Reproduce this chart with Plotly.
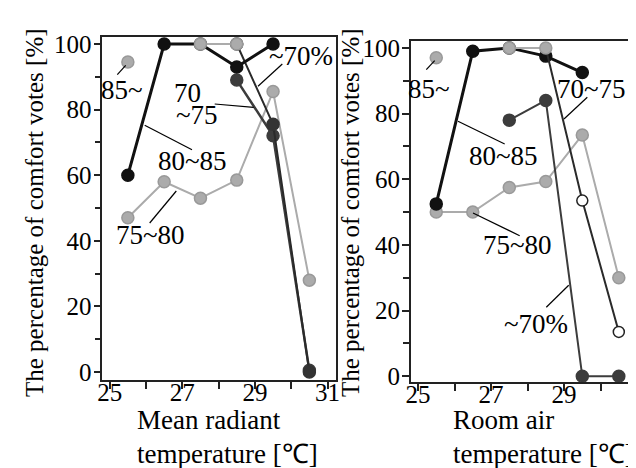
import plotly.graph_objects as go

# ---------------- data ----------------
temp_bins = [25.5, 26.5, 27.5, 28.5, 29.5, 30.5]

# Left panel: mean radiant temperature
mrt_85 = [94.5, None, None, None, None, None]
mrt_80_85 = [60, 100, 100, 93, 100, None]
mrt_75_80 = [47, 58, 53, 58.5, 85.5, 28]
mrt_70_75 = [None, None, None, 89, 72, 0.5]
mrt_70 = [None, None, 100, 100, 75.5, 0]

# Right panel: room air temperature
air_85 = [97, None, None, None, None, None]
air_80_85 = [52.5, 99, 100, 97.5, 92.5, None]
air_75_80 = [50, 50, 57.5, 59.3, 73.5, 30]
air_70_75 = [None, None, 100, 100, 53.5, 13.5]
air_70 = [None, None, 78, 84, 0, 0]

y_ticks = [0, 20, 40, 60, 80, 100]
x_ticks = [25, 27, 29, 31]

W, H = 636, 468
FONT = "Liberation Serif"
BLACK = "#111111"
DARK = "#3c3c3c"
LIGHT = "#ababab"


def px(x):
    return x / W


def py(y):
    return 1 - y / H


fig = go.Figure()


def line_trace(xs, ys, xa, ya, lcolor, lwidth, mcolor, msize=12, mline=None):
    fig.add_trace(go.Scatter(
        x=xs, y=ys, xaxis=xa, yaxis=ya, mode="lines+markers",
        line=dict(color=lcolor, width=lwidth),
        marker=dict(color=mcolor, size=msize, symbol="circle",
                    line=dict(color=mline or mcolor, width=1.5)),
        connectgaps=False, showlegend=False, hoverinfo="skip", cliponaxis=False))


# ---- left panel ----
line_trace(temp_bins, mrt_75_80, "x", "y", LIGHT, 2, LIGHT, mline="#999999")
line_trace(temp_bins, mrt_70_75, "x", "y", DARK, 2.5, DARK)
line_trace(temp_bins[3:], mrt_70[3:], "x", "y", "#2a2a2a", 2, "#333333")
line_trace(temp_bins, mrt_80_85, "x", "y", BLACK, 3, BLACK)
line_trace(temp_bins[2:4], mrt_70[2:4], "x", "y", LIGHT, 2, LIGHT, mline="#999999")
line_trace(temp_bins, mrt_85, "x", "y", LIGHT, 2, LIGHT, mline="#999999")

# ---- right panel ----
line_trace(temp_bins, air_75_80, "x2", "y2", LIGHT, 2, LIGHT, mline="#999999")
line_trace(temp_bins, air_70, "x2", "y2", DARK, 2, DARK)
line_trace(temp_bins, air_80_85, "x2", "y2", BLACK, 3, BLACK)
line_trace(temp_bins[3:], air_70_75[3:], "x2", "y2", "#2a2a2a", 2,
           ["rgba(0,0,0,0)", "white", "white"], msize=11,
           mline=["rgba(0,0,0,0)", "#222222", "#222222"])
line_trace(temp_bins[2:4], air_70_75[2:4], "x2", "y2", LIGHT, 2, LIGHT, mline="#999999")
line_trace(temp_bins, air_85, "x2", "y2", LIGHT, 2, LIGHT, mline="#999999")

tick_font = dict(family=FONT, size=25, color="black")
axis_common = dict(
    showline=True, linecolor="#222222", linewidth=1.5,
    ticks="outside", ticklen=7, tickwidth=1.5, tickcolor="#222222",
    showgrid=False, zeroline=False, tickfont=tick_font, automargin=False,
)

xa = dict(axis_common, tickvals=x_ticks, mirror=True, ticklabelstandoff=-18,
          minor=dict(dtick=1, tick0=25, ticks="outside", ticklen=7, tickwidth=1.5, tickcolor="#222222"))
ya = dict(axis_common, tickvals=y_ticks, ticklabelstandoff=-3,
          minor=dict(dtick=10, tick0=0, ticks="outside", ticklen=6, tickwidth=1.5, tickcolor="#222222"))

fig.update_layout(
    width=W, height=H, margin=dict(l=0, r=0, t=0, b=0, autoexpand=False),
    paper_bgcolor="white", plot_bgcolor="white",
    xaxis=dict(xa, domain=[px(94.3), px(328.3)], range=[24.796, 31.242], anchor="y"),
    yaxis=dict(ya, domain=[py(372), py(29)], range=[-2.44, 102.13], anchor="x", mirror=True),
    xaxis2=dict(xa, domain=[px(402.7), 1.0], range=[24.8, 31.19], anchor="y2"),
    yaxis2=dict(ya, domain=[py(374), py(33)], range=[-1.74, 102.1], anchor="x2", mirror=False),
)

annots = []


def label(text, x, y, size=27, xanchor="center", angle=0):
    annots.append(dict(text=text, x=px(x), y=py(y), xref="paper", yref="paper",
                       xanchor=xanchor, yanchor="middle", showarrow=False,
                       textangle=angle, font=dict(family=FONT, size=size, color="black")))


# left panel labels
label("85~", 114, 81.7)
label("80~85", 184, 153)
label("70", 179, 85.3)
label("~75", 166, 107.3, xanchor="left")
label("~70%", 292.5, 48)
label("75~80", 142.5, 226.7)
# right panel labels
label("85~", 420.8, 80.8)
label("80~85", 495.8, 148)
label("70~75", 583.3, 80.8)
label("75~80", 509.2, 236.7)
label("~70%", 527.5, 316)

# axis titles
label("The percentage of comfort votes [%]", 26, 205, size=25, angle=-90)
label("The percentage of comfort votes [%]", 342, 205, size=25, angle=-90)
label("Mean radiant", 127, 412, xanchor="left")
label("temperature [℃]", 127, 446, xanchor="left")
label("Room air", 443, 412, xanchor="left")
label("temperature [℃]", 443, 446, xanchor="left")

fig.update_layout(annotations=annots)

leaders = [
    (109.3, 66.7, 117.7, 57.3),
    (136.7, 117.3, 184, 141.7),
    (206.7, 96, 245.7, 99.3),
    (274.3, 56, 250, 78.3),
    (141.7, 215, 168.3, 183),
    (418.3, 61.7, 426.7, 52.7),
    (450, 113.3, 496.7, 136),
    (579.3, 89.3, 556, 111),
    (465, 205, 511.7, 227.7),
    (538.3, 299.3, 560.7, 277.3),
]
fig.update_layout(shapes=[
    dict(type="line", xref="paper", yref="paper",
         x0=px(a), y0=py(b), x1=px(c), y1=py(d),
         line=dict(color="black", width=1.2))
    for a, b, c, d in leaders
])

fig.write_html("out.html")
